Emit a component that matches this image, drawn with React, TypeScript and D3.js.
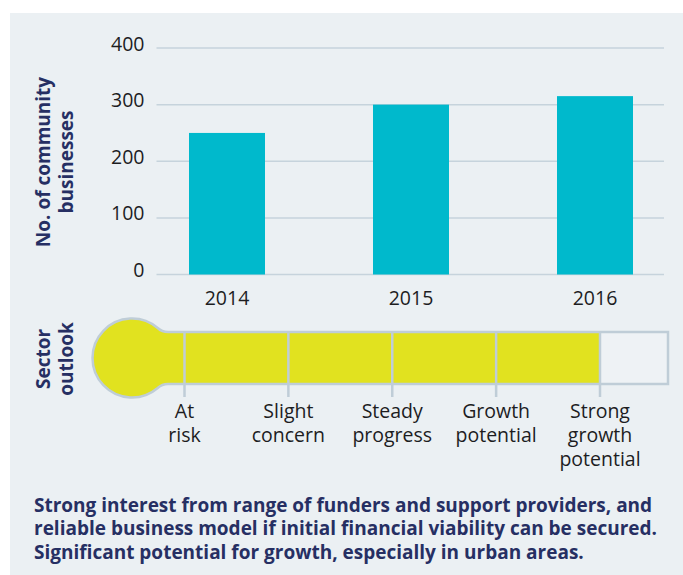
import React from "react";
import * as d3 from "d3";

const years = ["2014", "2015", "2016"];
const businesses = [250, 300, 315];
const yTicks = [0, 100, 200, 300, 400];

const outlookLevels = [
  ["At", "risk"],
  ["Slight", "concern"],
  ["Steady", "progress"],
  ["Growth", "potential"],
  ["Strong", "growth", "potential"],
];
const currentOutlook = 4;

const yTitle = ["No. of community", "businesses"];
const outlookTitle = ["Sector", "outlook"];
const summary = [
  "Strong interest from range of funders and support providers, and",
  "reliable business model if initial financial viability can be secured.",
  "Significant potential for growth, especially in urban areas.",
];

const W = 683;
const H = 575;
const navy = "#262f63";
const ink = "#1d1d1f";
const font = "'Open Sans', Lato, sans-serif";

const App: React.FC = () => {
  const x = d3
    .scaleBand<string>()
    .domain(years)
    .range([135, 687])
    .paddingInner(0.587)
    .paddingOuter(0.2935);
  const y = d3.scaleLinear().domain([0, 400]).range([274.5, 48]);

  // thermometer
  const levelIdx = outlookLevels.map((_, i) => i);
  const t = d3.scalePoint<number>().domain(levelIdx).range([184.5, 600]);
  const tubeTop = 332;
  const tubeBot = 384;
  const tubeEnd = 668;
  const cx = 132;
  const cy = 358;
  const r = 39.5;
  const dy = 30;
  const nx = cx + Math.sqrt(r * r - dy * dy);
  const shape = (end: number) =>
    `M168,${tubeTop} H${end} V${tubeBot} H168 Q162,${tubeBot} ${nx},${cy + dy} ` +
    `A${r},${r} 0 1 1 ${nx},${cy - dy} Q162,${tubeTop} 168,${tubeTop} Z`;
  const fillEnd = t(currentOutlook) as number;

  return (
    <svg
      width={W}
      height={H}
      style={{ position: "absolute", left: 0, top: 0, background: "#fff" }}
      fontFamily={font}
    >
      <rect x={10} y={13} width={W - 10} height={H - 13} fill="#ebf0f3" />

      {/* grid + y ticks */}
      {yTicks.map((v) => (
        <g key={v}>
          <line
            x1={156.5}
            x2={664}
            y1={y(v)}
            y2={y(v)}
            stroke="#c6d3dc"
            strokeWidth={1.5}
          />
          <text
            x={144.5}
            y={y(v) + 2.5}
            textAnchor="end"
            fontSize={19.5}
            fill={ink}
          >
            {v}
          </text>
        </g>
      ))}

      {years.map((yr, i) => (
        <g key={yr}>
          <rect
            x={x(yr)}
            y={y(businesses[i])}
            width={x.bandwidth()}
            height={y(0) - y(businesses[i])}
            fill="#00b9cc"
          />
          <text
            x={(x(yr) as number) + x.bandwidth() / 2}
            y={305}
            textAnchor="middle"
            fontSize={19.5}
            fill={ink}
          >
            {yr}
          </text>
        </g>
      ))}

      <text
        transform="rotate(-90)"
        fontSize={19}
        fontWeight="bold"
        fill={navy}
        textAnchor="middle"
      >
        {yTitle.map((s, i) => (
          <tspan key={s} x={-162} y={50 + i * 22.7}>
            {s}
          </tspan>
        ))}
      </text>

      <text
        transform="rotate(-90)"
        fontSize={19}
        fontWeight="bold"
        fill={navy}
        textAnchor="middle"
      >
        {outlookTitle.map((s, i) => (
          <tspan key={s} x={-359} y={50 + i * 22.7}>
            {s}
          </tspan>
        ))}
      </text>

      {/* thermometer */}
      <defs>
        <clipPath id="fillClip">
          <rect x={0} y={0} width={fillEnd} height={H} />
        </clipPath>
      </defs>
      <path d={shape(tubeEnd)} fill="#eef2f5" />
      <path d={shape(tubeEnd)} fill="#e1e21f" clipPath="url(#fillClip)" />
      <path d={shape(tubeEnd)} fill="none" stroke="#bfcdd7" strokeWidth={2.5} />
      {levelIdx.map((i) => (
        <g key={i}>
          <line
            x1={t(i)}
            x2={t(i)}
            y1={tubeTop}
            y2={397}
            stroke="#bfcdd7"
            strokeWidth={2.5}
          />
          <text textAnchor="middle" fontSize={19.5} fill={ink}>
            {outlookLevels[i].map((s, j) => (
              <tspan key={j} x={t(i)} y={418 + j * 24}>
                {s}
              </tspan>
            ))}
          </text>
        </g>
      ))}

      <text fontSize={19} fontWeight="bold" fill={navy}>
        {summary.map((s, i) => (
          <tspan key={i} x={34} y={511.7 + i * 23.7}>
            {s}
          </tspan>
        ))}
      </text>
    </svg>
  );
};

export default App;
